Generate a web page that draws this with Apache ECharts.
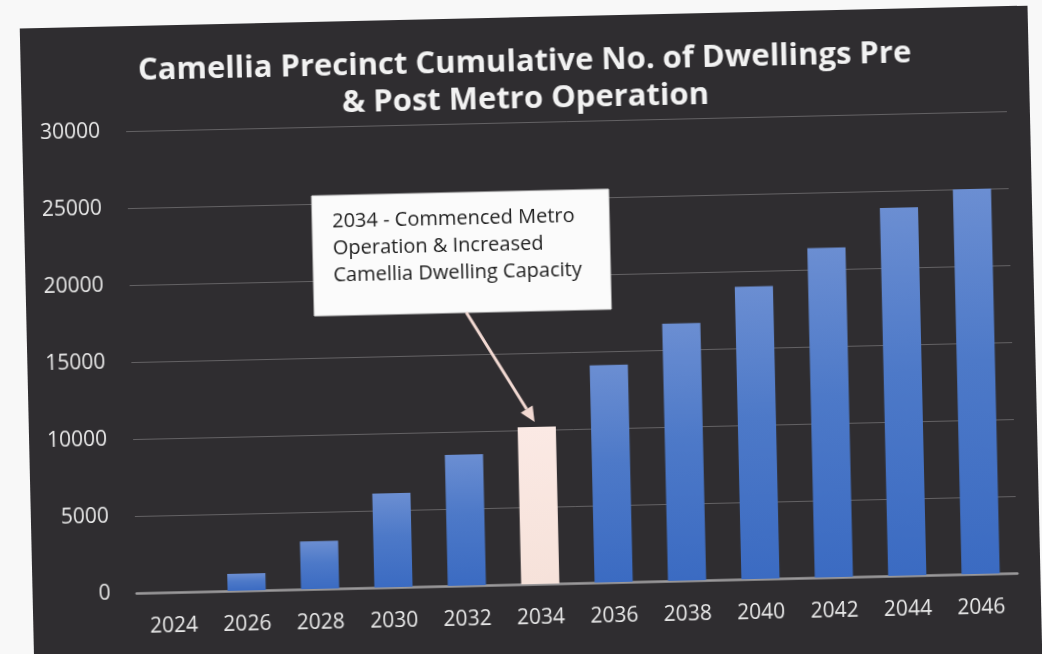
<!DOCTYPE html>
<html>
<head>
<meta charset="utf-8">
<script src="https://cdn.jsdelivr.net/npm/echarts@6/dist/echarts.min.js"></script>
<style>
  html, body { margin: 0; padding: 0; width: 1042px; height: 654px; overflow: hidden; background: #f8f8f8; }
  #panel { position: absolute; left: 27px; top: 17px; width: 1008px; height: 650px;
           transform: rotate(-1.3deg); background: #2f2d30; }
  #chart { width: 1008px; height: 650px; }
</style>
</head>
<body>
<div id="panel"><div id="chart"></div></div>
<script>
const titleLines = ['Camellia Precinct Cumulative No. of Dwellings Pre', '& Post Metro Operation'];
const years = ['2024', '2026', '2028', '2030', '2032', '2034', '2036', '2038', '2040', '2042', '2044', '2046'];
const dwellings = [0, 1100, 3100, 6100, 8500, 10200, 14100, 16700, 19000, 21400, 23900, 25000];
const highlightYear = '2034';
const annotationLines = ['2034 - Commenced Metro', 'Operation & Increased', 'Camellia Dwelling Capacity'];
const yMin = 0, yMax = 30000, yStep = 5000;

const blueGrad = new echarts.graphic.LinearGradient(0, 0, 0, 1, [
  { offset: 0, color: '#6b8ed2' },
  { offset: 0.45, color: '#4d79c8' },
  { offset: 1, color: '#3b6bc2' }
]);
const pinkGrad = new echarts.graphic.LinearGradient(0, 0, 0, 1, [
  { offset: 0, color: '#fbe9e4' },
  { offset: 1, color: '#f6e2da' }
]);

const chart = echarts.init(document.getElementById('chart'), null, { renderer: 'canvas' });
const option = {
  backgroundColor: 'transparent',
  animation: false,
  title: {
    text: titleLines.join('\n'),
    left: 'center',
    top: 22,
    textStyle: { fontFamily: 'Open Sans', fontWeight: 'bold', fontSize: 31, color: '#f2f2f2', lineHeight: 37 }
  },
  grid: { left: 104, right: 23, top: 105, bottom: 83 },
  xAxis: {
    type: 'category',
    data: years,
    axisLine: { show: true, lineStyle: { color: '#9c9a9c', width: 2.5 } },
    axisTick: { show: false },
    axisLabel: { color: '#e8e8e8', fontFamily: 'Open Sans', fontSize: 21, margin: 24 }
  },
  yAxis: {
    type: 'value',
    min: yMin, max: yMax, interval: yStep,
    axisLine: { show: false },
    axisTick: { show: false },
    axisLabel: { color: '#e8e8e8', fontFamily: 'Open Sans', fontSize: 21, margin: 26, formatter: v => String(v) },
    splitLine: { lineStyle: { color: 'rgba(150,148,150,0.5)', width: 1 } }
  },
  series: [{
    type: 'bar',
    barWidth: '52%',
    data: dwellings.map((v, i) => ({
      value: v,
      itemStyle: { color: years[i] === highlightYear ? pinkGrad : blueGrad }
    }))
  }]
};
chart.setOption(option);

// annotation box + arrow to the highlighted bar
const hi = years.indexOf(highlightYear);
const tip = chart.convertToPixel({ gridIndex: 0 }, [hi, dwellings[hi]]);
const box = { x: 288, y: 174, w: 297, h: 120 };
const start = [440, box.y + box.h];
const end = [tip[0] - 2, tip[1] - 5];
const ang = Math.atan2(end[1] - start[1], end[0] - start[0]);
const headLen = 15, headW = 7;
const base = [end[0] - headLen * Math.cos(ang), end[1] - headLen * Math.sin(ang)];
const px = -Math.sin(ang), py = Math.cos(ang);
chart.setOption({
  graphic: [
    { type: 'rect', shape: { x: box.x, y: box.y, width: box.w, height: box.h },
      style: { fill: '#fbfbfb', stroke: '#e0e0e0', lineWidth: 1 }, z: 10 },
    { type: 'text', x: box.x + 20, y: box.y + 13,
      style: { text: annotationLines.join('\n'), fill: '#1e1e1e', font: '20px "Open Sans"', lineHeight: 27 }, z: 11 },
    { type: 'line', shape: { x1: start[0], y1: start[1], x2: base[0], y2: base[1] },
      style: { stroke: '#f2d9d2', lineWidth: 3 }, z: 10 },
    { type: 'polygon', shape: { points: [end, [base[0] + px * headW, base[1] + py * headW], [base[0] - px * headW, base[1] - py * headW]] },
      style: { fill: '#f2d9d2' }, z: 10 }
  ]
});
</script>
</body>
</html>
